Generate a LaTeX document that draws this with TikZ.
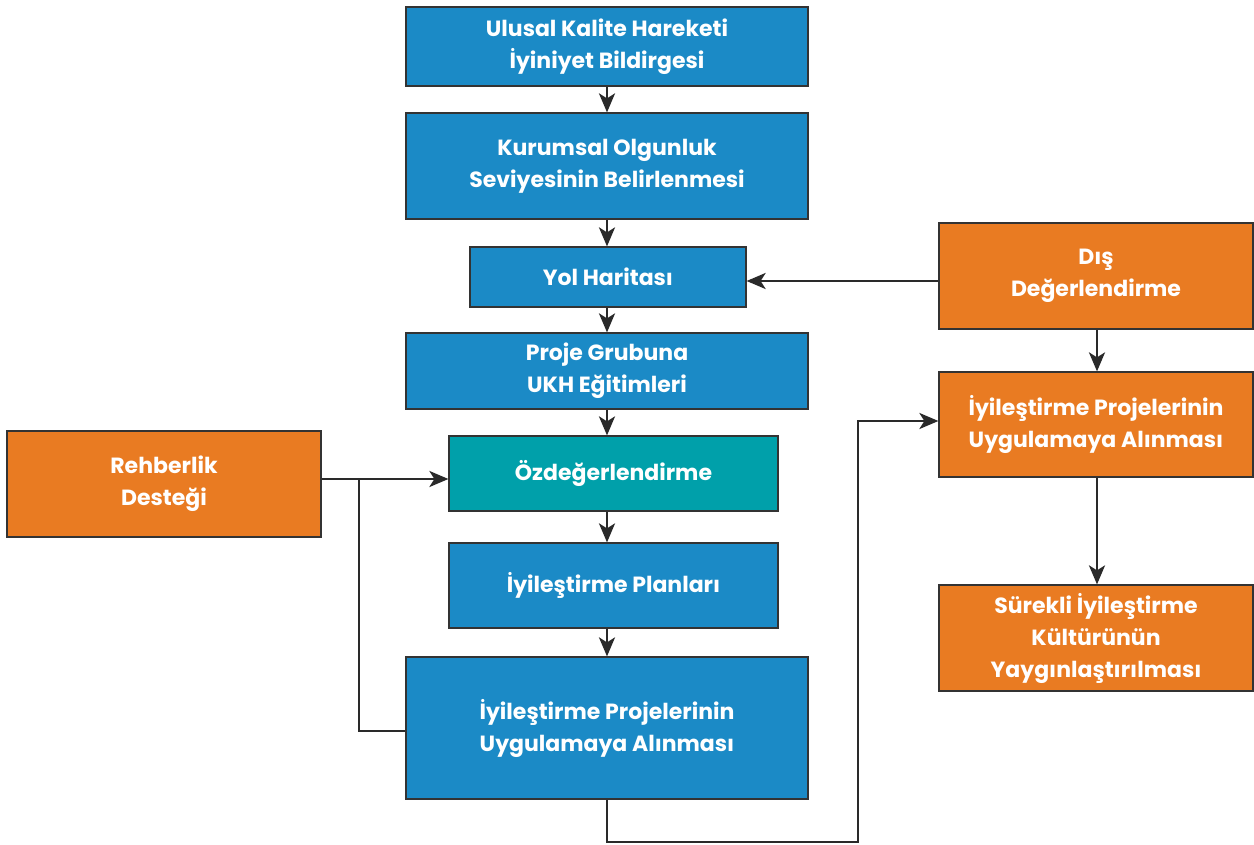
\documentclass[tikz,border=0pt]{standalone}
\usepackage{fontspec}
\setmainfont{Poppins}
\usetikzlibrary{arrows.meta}
\definecolor{bxblue}{HTML}{1B8AC6}
\definecolor{bxteal}{HTML}{00A0AA}
\definecolor{bxorange}{HTML}{E97B22}
\definecolor{edge}{HTML}{333333}
\definecolor{conn}{HTML}{2A2A2A}
\tikzset{
  box/.style={draw=edge, line width=1.2pt, text=white, align=center, inner sep=0pt,
    font=\fontsize{22}{32}\selectfont\bfseries},
  bluebox/.style={box, fill=bxblue},
  tealbox/.style={box, fill=bxteal},
  orangebox/.style={box, fill=bxorange},
  conn/.style={draw=conn, line width=2.8pt, -{Stealth[length=19pt,width=16pt,inset=5pt]}},
  plain/.style={draw=conn, line width=2.8pt},
}
\begin{document}
\begin{tikzpicture}[x=1pt,y=-1pt]
\useasboundingbox (0,0) rectangle (1254,845);
\node[bluebox, minimum width=402pt, minimum height=79pt] (b1) at (607,46.5) {Ulusal Kalite Hareketi\\İyiniyet Bildirgesi};
\node[bluebox, minimum width=402pt, minimum height=106pt] (b2) at (607,166) {Kurumsal Olgunluk\\Seviyesinin Belirlenmesi};
\node[bluebox, minimum width=276pt, minimum height=60pt] (b3) at (608,277) {Yol Haritası};
\node[bluebox, minimum width=402pt, minimum height=76pt] (b4) at (607,371) {Proje Grubuna\\UKH Eğitimleri};
\node[tealbox, minimum width=329pt, minimum height=75pt] (b5) at (613.5,473.5) {Özdeğerlendirme};
\node[bluebox, minimum width=329pt, minimum height=85pt] (b6) at (613.5,585.5) {İyileştirme Planları};
\node[bluebox, minimum width=402pt, minimum height=142pt] (b7) at (607,728) {İyileştirme Projelerinin\\Uygulamaya Alınması};
\node[orangebox, minimum width=314pt, minimum height=106pt] (r) at (164,484) {Rehberlik\\Desteği};
\node[orangebox, minimum width=314pt, minimum height=106pt] (d) at (1096,276) {Dış\\Değerlendirme};
\node[orangebox, minimum width=314pt, minimum height=105pt] (i2) at (1096,424.5) {İyileştirme Projelerinin\\Uygulamaya Alınması};
\node[orangebox, minimum width=314pt, minimum height=106pt] (s) at (1096,638) {Sürekli İyileştirme\\Kültürünün\\Yaygınlaştırılması};
% vertical chain
\draw[conn] (b1.south -| 607,0) -- (b2.north -| 607,0);
\draw[conn] (b2.south -| 607,0) -- (b3.north -| 607,0);
\draw[conn] (b3.south -| 607,0) -- (b4.north -| 607,0);
\draw[conn] (b4.south -| 607,0) -- (b5.north -| 607,0);
\draw[conn] (b5.south -| 607,0) -- (b6.north -| 607,0);
\draw[conn] (b6.south -| 607,0) -- (b7.north -| 607,0);
% Rehberlik
\coordinate (rj) at (359,479);
\draw[conn] (r.east |- rj) -- (b5.west |- rj);
\draw[plain] (rj) |- (b7.west |- 0,731);
% Dis
\draw[conn] (d.west |- 0,281) -- (b3.east |- 0,281);
\draw[conn] (d.south -| 1097,0) -- (i2.north -| 1097,0);
\draw[conn] (i2.south -| 1097,0) -- (s.north -| 1097,0);
% loop
\coordinate (l1) at (607,842);
\coordinate (l2) at (858,421);
\draw[conn] (b7.south -| l1) |- (l2 |- l1) -- (l2) -- (i2.west |- l2);
\end{tikzpicture}
\end{document}
